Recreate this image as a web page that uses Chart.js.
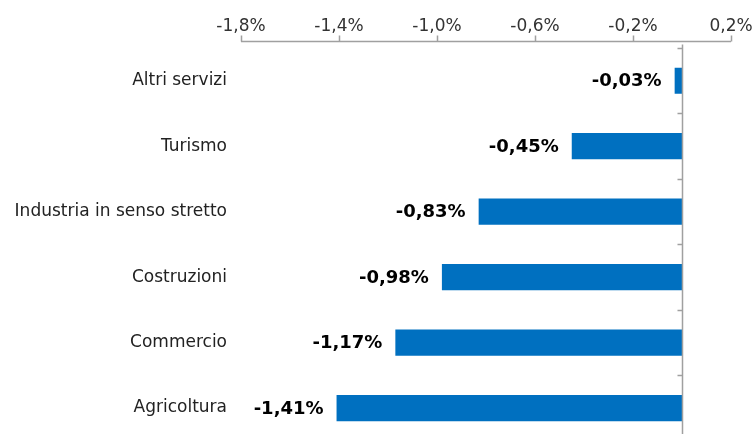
<!DOCTYPE html>
<html>
<head>
<meta charset="utf-8">
<script src="https://cdn.jsdelivr.net/npm/chart.js@4.4.1/dist/chart.umd.min.js"></script>
<style>
  html, body { margin: 0; padding: 0; background: #fff; overflow: hidden; }
  canvas { display: block; }
</style>
</head>
<body>
<canvas id="cnv_sectors" width="755" height="465"></canvas>
<script>
const sectors = ['Altri servizi', 'Turismo', 'Industria in senso stretto', 'Costruzioni', 'Commercio', 'Agricoltura']
const changes = [-0.03, -0.45, -0.83, -0.98, -1.17, -1.41]
const tickValues = [-1.8, -1.4, -1.0, -0.6, -0.2, 0.2]

const fmtPct = (v, digits) => v.toFixed(digits).replace('.', ',') + '%'
const axisColor = '#a0a0a0'
const fontFamily = '"DejaVu Sans", Verdana, sans-serif'

// draws the axis lines, the little tick marks and the value labels
const axisDecor = {
    id: 'axisDecor',
    afterDatasetsDraw(chart) {
        const { ctx, chartArea, scales: { x, y } } = chart
        const axisY = chartArea.top - 6.5
        const x0 = Math.round(x.getPixelForValue(0)) + 0.5
        ctx.save()
        ctx.strokeStyle = axisColor
        ctx.lineWidth = 1.5
        ctx.beginPath()
        ctx.moveTo(x.getPixelForValue(tickValues[0]), axisY)
        ctx.lineTo(x.getPixelForValue(tickValues[tickValues.length - 1]), axisY)
        tickValues.forEach(v => {
            const px = Math.round(x.getPixelForValue(v)) + 0.5
            ctx.moveTo(px, axisY)
            ctx.lineTo(px, axisY - 6)
        })
        ctx.moveTo(x0, axisY + 3)
        ctx.lineTo(x0, chart.height)
        const step = (y.getPixelForValue(1) - y.getPixelForValue(0))
        for (let i = 0; i <= sectors.length; i++) {
            const py = Math.round(y.getPixelForValue(0) - step / 2 + i * step) + 0.5
            ctx.moveTo(x0 - 5, py)
            ctx.lineTo(x0, py)
        }
        ctx.stroke()

        ctx.fillStyle = '#000'
        ctx.font = 'bold 18px ' + fontFamily
        ctx.textAlign = 'right'
        ctx.textBaseline = 'middle'
        changes.forEach((v, i) => {
            ctx.fillText(fmtPct(v, 2), x.getPixelForValue(v) - 13, y.getPixelForValue(i) + 1)
        })
        ctx.restore()
    }
}

const ctx = document.getElementById('cnv_sectors').getContext('2d')
const myChart = new Chart(ctx, {
    type: 'bar',
    plugins: [axisDecor],
    data: {
        labels: sectors,
        datasets: [{
            data: changes,
            backgroundColor: '#0070C0',
            borderWidth: 0,
            barPercentage: 0.4,
            categoryPercentage: 1
        }]
    },
    options: {
        indexAxis: 'y',
        responsive: false,
        animation: false,
        layout: { padding: { top: 0, right: 24, bottom: 5, left: 0 } },
        plugins: {
            legend: { display: false },
            tooltip: { enabled: false }
        },
        scales: {
            x: {
                type: 'linear',
                position: 'top',
                min: -1.8,
                max: 0.2,
                afterBuildTicks: scale => { scale.ticks = tickValues.map(v => ({ value: v })) },
                afterFit: scale => {
                    scale.height = 48
                    scale.paddingLeft = 0
                    scale.paddingRight = 0
                },
                grid: { display: false, drawTicks: false },
                border: { display: false },
                ticks: {
                    padding: 11,
                    color: '#333',
                    font: { family: fontFamily, size: 17 },
                    callback: v => fmtPct(v, 1)
                }
            },
            y: {
                afterFit: scale => { scale.width = 241 },
                grid: { display: false, drawTicks: false },
                border: { display: false },
                ticks: {
                    padding: 14,
                    color: '#222',
                    font: { family: fontFamily, size: 17 }
                }
            }
        }
    }
})
</script>
</body>
</html>
